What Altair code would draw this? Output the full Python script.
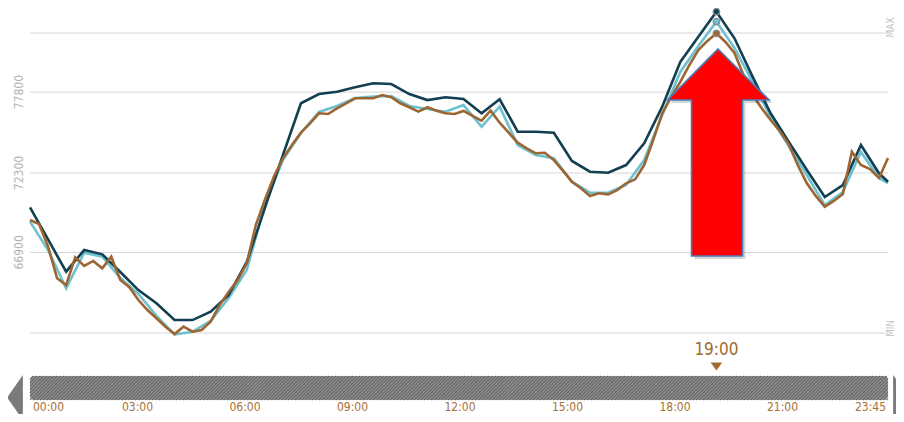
import altair as alt
import numpy as np
import pandas as pd

# ---------------- data ----------------
HALF_HOURS = [i * 0.5 for i in range(48)] + [23.75]
QUARTER_HOURS = [i * 0.25 for i in range(96)]

DARK = [69970, 67780, 65590, 67060, 66770, 65570, 64340, 63440, 62300, 62300,
        62870, 64000, 66250, 69920, 73520, 77040, 77670, 77830, 78130, 78400,
        78350, 77670, 77260, 77450, 77330, 76360, 77310, 75110, 75110, 75040,
        73120, 72390, 72320, 72840, 74320, 76810, 79850, 81570, 83270, 81460,
        78850, 76360, 74430, 72520, 70670, 71480, 74200, 72280, 71710]

LIGHT = [68990, 67060, 64460, 66880, 66610, 65160, 64070, 62580, 61320, 61510,
         62240, 63800, 65700, 70120, 73180, 75020, 76450, 76860, 77400, 77500,
         77540, 76860, 76650, 76470, 76920, 75450, 76810, 74200, 73520, 73300,
         71710, 70960, 70960, 71480, 73180, 76240, 79170, 80940, 82590, 80800,
         78490, 76110, 74140, 72160, 70120, 71010, 73730, 71960, 71620]

BROWN = [69100, 68830, 67300, 65140, 64680, 66570, 65980, 66320, 65820, 66610, 65020, 64530,
         63660, 62980, 62420, 61850, 61350, 61850, 61510, 61620, 62190, 63320, 64230, 65020,
         66160, 68760, 70460, 72050, 73300, 74200, 75040, 75680, 76360, 76310, 76700, 77040,
         77380, 77380, 77380, 77600, 77450, 77040, 76770, 76470, 76770, 76540, 76360, 76310,
         76520, 76180, 75860, 76540, 75720, 75040, 74360, 73980, 73640, 73680, 73180, 72460,
         71710, 71260, 70740, 70920, 70850, 71140, 71600, 71870, 72840, 74540, 76360, 77470,
         78490, 79640, 80660, 81280, 81800, 81210, 80460, 78960, 77600, 76720, 75900, 75160,
         74270, 72840, 71620, 70740, 70010, 70400, 70870, 73750, 72840, 72570, 71960, 73320]

TICK_HOURS = [0, 3, 6, 9, 12, 15, 18, 21, 23.75]
TICK_LABELS = ["00:00", "03:00", "06:00", "09:00", "12:00", "15:00", "18:00", "21:00", "23:45"]
GRID_VALUES = [61420, 66900, 72300, 77800, 81820]
LEFT_LABEL_VALUES = [66900, 72300, 77800]
RIGHT_LABELS = ["MAX", "MIN"]
MARK_HOUR = 19
MARK_LABEL = "19:00"

SERIES = ["light", "dark", "brown"]
COLORS = ["#6dc1d1", "#123f51", "#9d6532"]
C_TEXT = "#a86f38"

# ---------------- geometry ----------------
W, H = 888, 406
X_DOM = [-0.609, 23.971]
Y_DOM = [55912, 83520]
xs = alt.Scale(domain=X_DOM, nice=False, zero=False)
ys = alt.Scale(domain=Y_DOM, nice=False, zero=False)
tick_scale = alt.Scale(domain=[0, 24], range=[22, 882], nice=False, zero=False)


def px_to_h(px):
    return X_DOM[0] + px / W * (X_DOM[1] - X_DOM[0])


def py_to_v(py):
    return Y_DOM[1] - py / H * (Y_DOM[1] - Y_DOM[0])


one = pd.DataFrame({"a": [0]})

# gridlines
grid = alt.Chart(pd.DataFrame({"v": GRID_VALUES})).mark_rule(
    color="#d6d6d6", strokeWidth=1
).encode(
    y=alt.Y("v:Q", scale=ys, axis=None),
    x=alt.datum(0, scale=xs, axis=None),
    x2=alt.datum(23.75),
)

left_labels = alt.Chart(pd.DataFrame({"v": LEFT_LABEL_VALUES})).mark_text(
    angle=270, align="center", baseline="middle", fontSize=12,
    font="DejaVu Sans Condensed", color="#b3b3b3"
).encode(
    y=alt.Y("v:Q", scale=ys, axis=None),
    x=alt.value(11),
    text=alt.Text("v:Q", format="d"),
)

max_label = alt.Chart(one).mark_text(
    angle=270, align="center", baseline="middle", fontSize=10,
    font="DejaVu Sans Condensed", color="#c4c4c4", text=RIGHT_LABELS[0]
).encode(x=alt.value(883), y=alt.value(19.5))
min_label = alt.Chart(one).mark_text(
    angle=270, align="center", baseline="middle", fontSize=10,
    font="DejaVu Sans Condensed", color="#c4c4c4", text=RIGHT_LABELS[1]
).encode(x=alt.value(883), y=alt.value(320.5))


# series lines
def line(hours, vals, color, width=2.6):
    df = pd.DataFrame({"h": hours, "v": vals})
    return alt.Chart(df).mark_line(color=color, strokeWidth=width).encode(
        x=alt.X("h:Q", scale=xs, axis=None),
        y=alt.Y("v:Q", scale=ys, axis=None),
    )


l_light = line(HALF_HOURS, LIGHT, COLORS[0])
l_dark = line(HALF_HOURS, DARK, COLORS[1])
l_brown = line(QUARTER_HOURS, BROWN, COLORS[2])

peak_df = pd.DataFrame({
    "h": [MARK_HOUR] * 3,
    "v": [LIGHT[HALF_HOURS.index(MARK_HOUR)], DARK[HALF_HOURS.index(MARK_HOUR)],
          BROWN[QUARTER_HOURS.index(MARK_HOUR)]],
    "s": SERIES,
})
peaks = alt.Chart(peak_df).mark_point(
    filled=True, size=42, stroke="#8c8c8c", strokeWidth=1.3, opacity=1
).encode(
    x=alt.X("h:Q", scale=xs, axis=None),
    y=alt.Y("v:Q", scale=ys, axis=None),
    fill=alt.Fill("s:N", scale=alt.Scale(domain=SERIES, range=COLORS), legend=None),
)

# red arrow annotation
ARROW = "M 0 -1 L 0.495 -0.507 L 0.237 -0.507 L 0.237 1 L -0.256 1 L -0.256 -0.507 L -0.488 -0.507 Z"
arrow_shadow = alt.Chart(one).mark_point(
    shape=ARROW, size=42849, filled=True, fill="#000000", opacity=0.16, strokeWidth=0
).encode(x=alt.value(713), y=alt.value(147.5))
arrow = alt.Chart(one).mark_point(
    shape=ARROW, size=42849, filled=True, fill="#ff0000", stroke="#4a7ebb",
    strokeWidth=1.6, opacity=1
).encode(x=alt.value(710), y=alt.value(144.5))

# scrollbar
BAR_L, BAR_R, BAR_T, BAR_B = 22, 880, 368, 392
bar = alt.Chart(one).mark_rect(fill="#939393", cornerRadius=4).encode(
    x=alt.value(BAR_L), x2=alt.value(BAR_R), y=alt.value(BAR_T), y2=alt.value(BAR_B)
)
rows = []
slant = BAR_B - BAR_T
for c in np.arange(BAR_L - slant, BAR_R, 3.4):
    xb, yb, xt, yt = c, BAR_B, c + slant, BAR_T
    if xb < BAR_L:
        yb = BAR_B - (BAR_L - xb)
        xb = BAR_L
    if xt > BAR_R:
        yt = BAR_T + (xt - BAR_R)
        xt = BAR_R
    if xt - xb < 0.5:
        continue
    rows.append(dict(h1=px_to_h(xb), v1=py_to_v(yb), h2=px_to_h(xt), v2=py_to_v(yt)))
stripes = alt.Chart(pd.DataFrame(rows)).mark_rule(color="#6a6a6a", strokeWidth=1.2).encode(
    x=alt.X("h1:Q", scale=xs, axis=None),
    y=alt.Y("v1:Q", scale=ys, axis=None),
    x2="h2:Q",
    y2="v2:Q",
)

TRI_L = "M 0.35 -1 L -0.35 0 L 0.35 1 Z"
TRI_R = "M -0.35 -1 L 0.35 0 L -0.35 1 Z"
tri_left = alt.Chart(one).mark_point(
    shape=TRI_L, size=2025, filled=True, fill="#7a7a7a", opacity=1, strokeWidth=0
).encode(x=alt.value(7), y=alt.value(389.5))
tri_right = alt.Chart(one).mark_point(
    shape=TRI_R, size=2025, filled=True, fill="#7a7a7a", opacity=1, strokeWidth=0
).encode(x=alt.value(893), y=alt.value(389.5))

# tick labels
ticks_df = pd.DataFrame({"h": TICK_HOURS, "label": TICK_LABELS})
tick_base = alt.Chart(ticks_df)
TICK_Y = 399
tick_kw = dict(baseline="middle", fontSize=12, font="DejaVu Sans Condensed", color=C_TEXT)
ticks_first = tick_base.transform_filter("datum.h == 0").mark_text(align="left", dx=3, **tick_kw).encode(
    x=alt.X("h:Q", scale=tick_scale, axis=None), y=alt.value(TICK_Y), text="label:N")
ticks_mid = tick_base.transform_filter("datum.h > 0 && datum.h < 23").mark_text(align="center", **tick_kw).encode(
    x=alt.X("h:Q", scale=tick_scale, axis=None), y=alt.value(TICK_Y), text="label:N")
ticks_last = tick_base.transform_filter("datum.h > 23").mark_text(align="right", dx=5, **tick_kw).encode(
    x=alt.X("h:Q", scale=tick_scale, axis=None), y=alt.value(TICK_Y), text="label:N")

# current-time marker
mark_df = pd.DataFrame({"h": [MARK_HOUR], "label": [MARK_LABEL]})
mark_text = alt.Chart(mark_df).mark_text(
    align="center", baseline="middle", fontSize=17, font="DejaVu Sans Condensed", color="#a0692f"
).encode(x=alt.X("h:Q", scale=xs, axis=None), y=alt.value(342), text="label:N")
mark_tri = alt.Chart(mark_df).mark_point(
    shape="M -1 -0.7 L 1 -0.7 L 0 0.7 Z", size=135, filled=True, fill="#a0692f",
    opacity=1, strokeWidth=0
).encode(x=alt.X("h:Q", scale=xs, axis=None), y=alt.value(358.5))

chart = alt.layer(
    grid, left_labels, max_label, min_label,
    l_light, l_dark, l_brown, peaks,
    arrow_shadow, arrow,
    bar, stripes, tri_left, tri_right,
    ticks_first, ticks_mid, ticks_last,
    mark_text, mark_tri,
).resolve_scale(x="independent").properties(
    width=W, height=H, padding=0, autosize=alt.AutoSizeParams(type="none"),
    background="white",
).configure_view(stroke=None)

chart.save("out.html", embed_options={"renderer": "svg", "actions": False})
